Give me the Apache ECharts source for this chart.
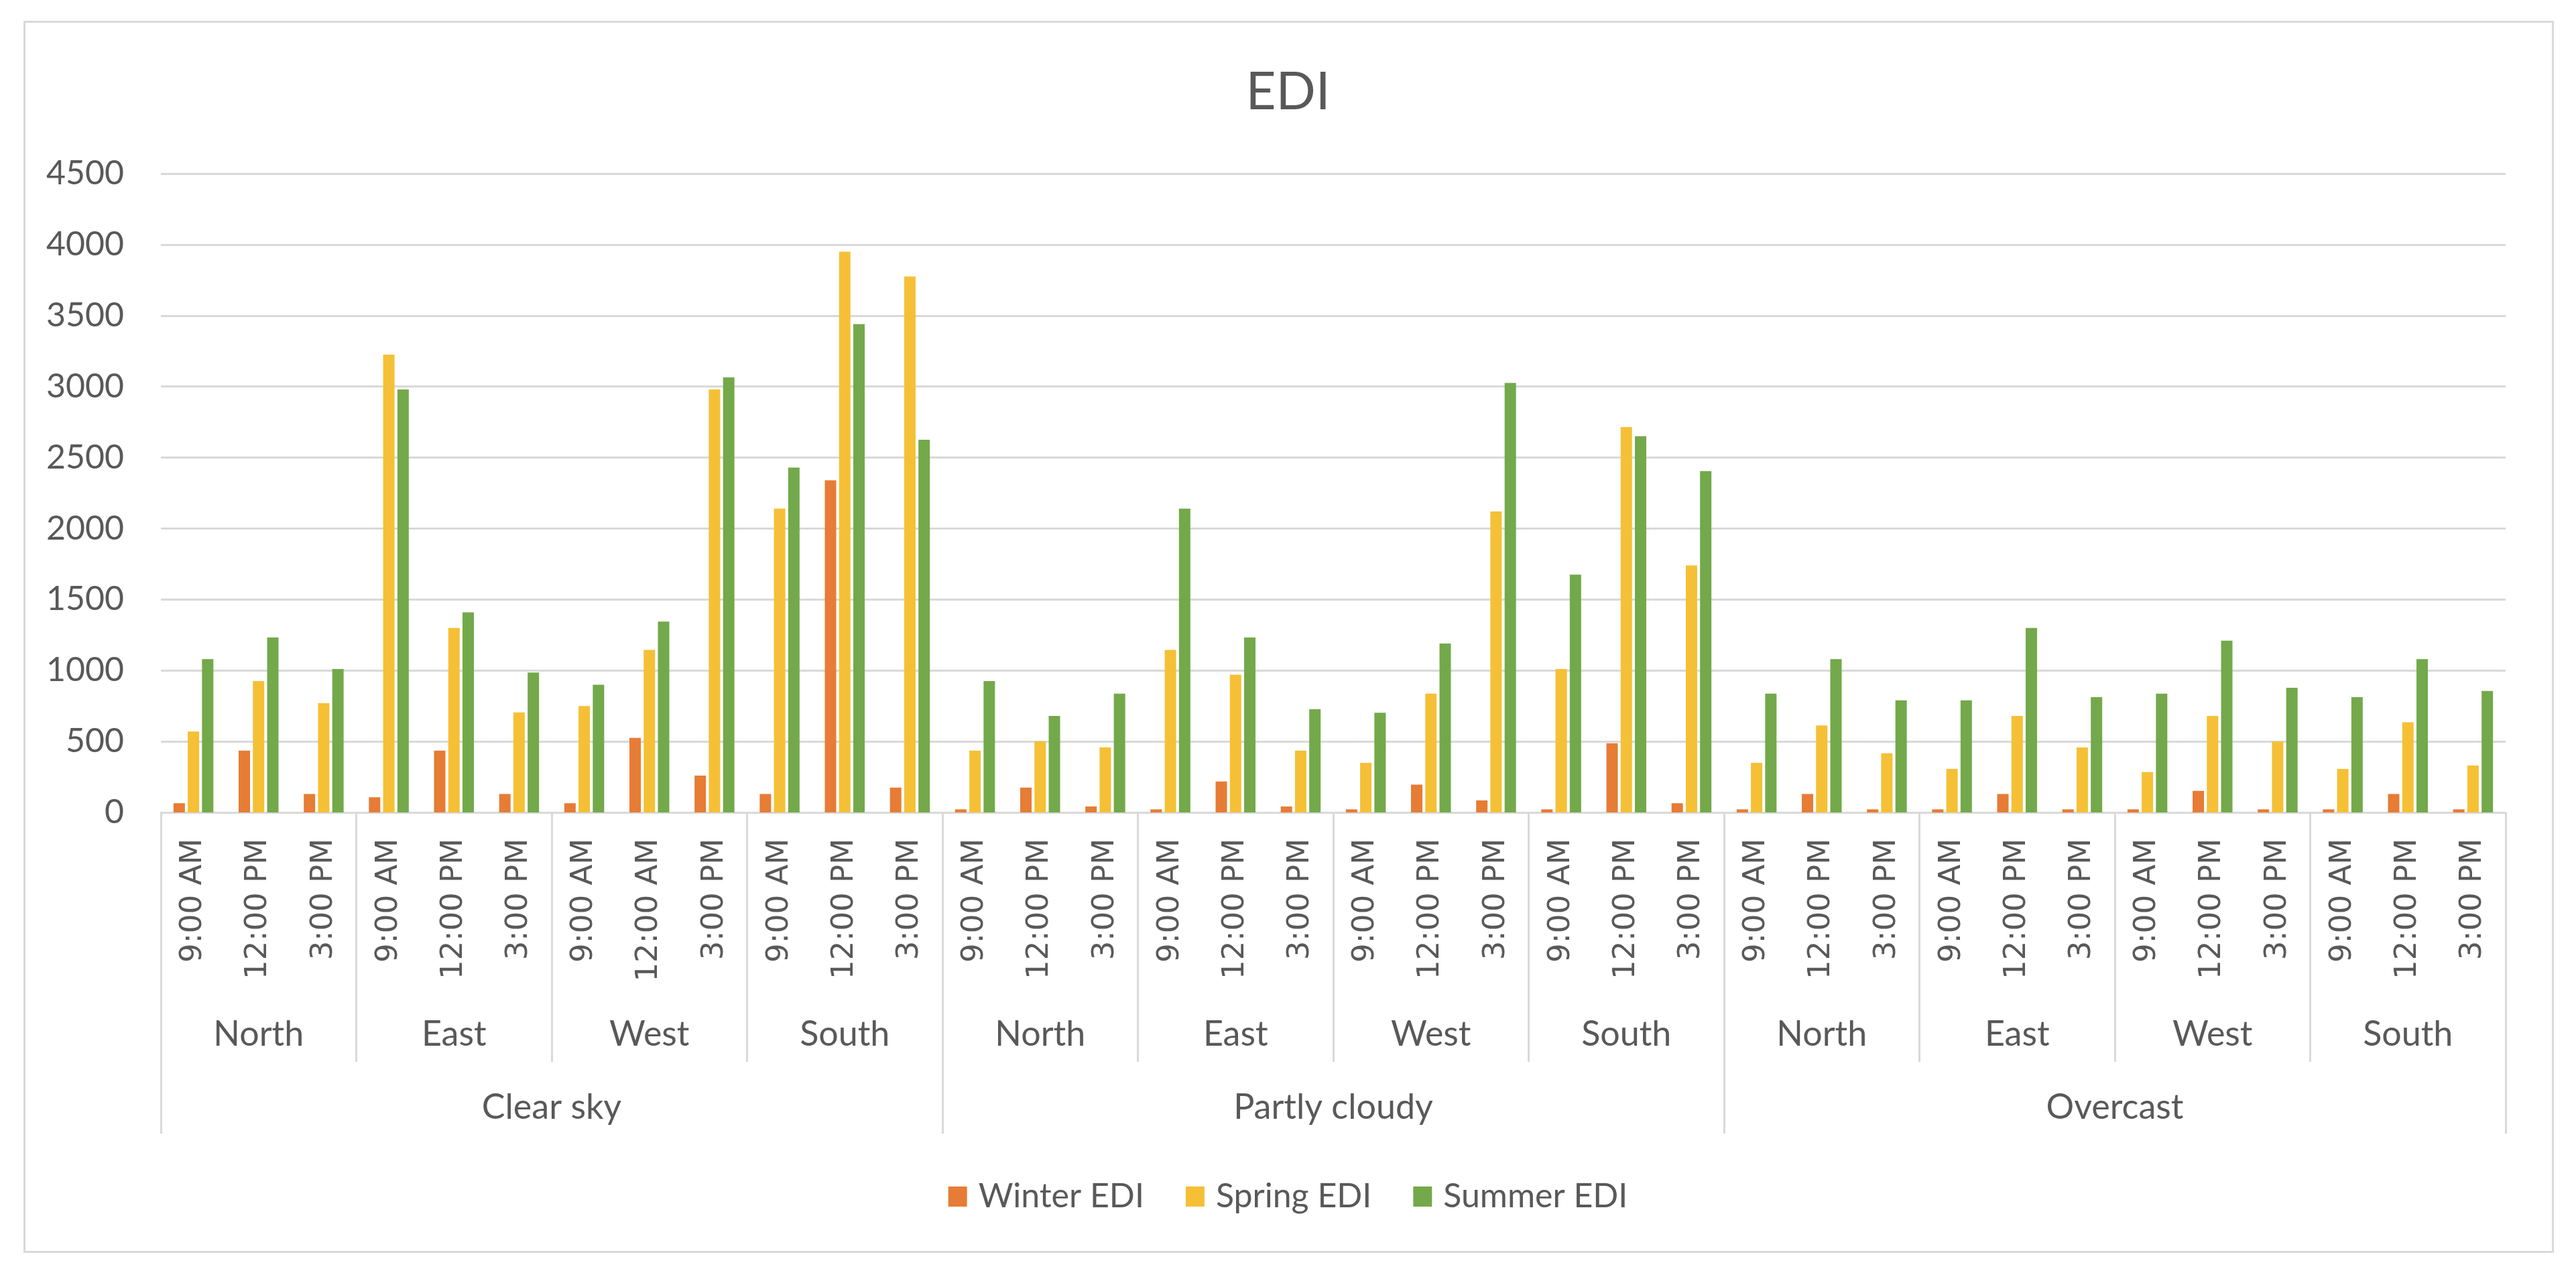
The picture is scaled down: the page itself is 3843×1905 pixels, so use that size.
<!DOCTYPE html>
<html>
<head>
<meta charset="utf-8">
<script src="https://cdn.jsdelivr.net/npm/echarts@6/dist/echarts.min.js"></script>
<style>
html,body{margin:0;padding:0;background:#fff;}
#chart{width:3843px;height:1905px;}
</style>
</head>
<body>
<div id="chart"></div>
<script>
const timeLabels = [
  '9:00 AM','12:00 PM','3:00 PM', '9:00 AM','12:00 PM','3:00 PM', '9:00 AM','12:00 AM','3:00 PM', '9:00 AM','12:00 PM','3:00 PM',
  '9:00 AM','12:00 PM','3:00 PM', '9:00 AM','12:00 PM','3:00 PM', '9:00 AM','12:00 PM','3:00 PM', '9:00 AM','12:00 PM','3:00 PM',
  '9:00 AM','12:00 PM','3:00 PM', '9:00 AM','12:00 PM','3:00 PM', '9:00 AM','12:00 PM','3:00 PM', '9:00 AM','12:00 PM','3:00 PM'
];
const directions = ['North','East','West','South','North','East','West','South','North','East','West','South'];
const skies = ['Clear sky','Partly cloudy','Overcast'];
const seriesNames = ['Winter EDI','Spring EDI','Summer EDI'];
const yTicks = {min: 0, max: 4500, interval: 500};

const winter = [65,436,130, 107,436,130, 65,525,260, 130,2340,175, 22,175,42, 22,218,42, 22,196,85, 22,487,65, 22,130,22, 22,130,22, 22,152,22, 22,130,22];
const spring = [570,925,770, 3225,1300,705, 750,1145,2980, 2140,3950,3775, 436,500,458, 1145,970,436, 350,837,2120, 1010,2715,1740, 350,613,417, 307,680,458, 285,680,500, 307,635,330];
const summer = [1080,1232,1010, 2980,1410,986, 900,1345,3065, 2430,3440,2625, 925,680,837, 2140,1232,727, 702,1190,3025, 1675,2650,2405, 837,1080,790, 790,1300,812, 837,1210,878, 812,1080,856];

const colors = ['#E67C35','#F5C036','#73A94A'];
const gridColor = '#D9D9D9';
const textColor = '#595959';
const baseFont = 'Lato';

const chart = echarts.init(document.getElementById('chart'), null, {renderer:'canvas'});
const option = {
  backgroundColor: '#fff',
  animation: false,
  title: {
    text: 'EDI', left: 'center', top: 94,
    textStyle: {fontFamily: baseFont, fontSize: 78, fontWeight: 'normal', color: textColor}
  },
  legend: {
    data: seriesNames, left: 'center', top: 1755,
    itemWidth: 28, itemHeight: 30, itemGap: 62, icon: 'rect',
    textStyle: {fontFamily: baseFont, fontSize: 50, color: textColor, padding: [0,0,0,12]}
  },
  grid: {left: 240, right: 105, top: 259, bottom: 693, containLabel: false},
  graphic: [{
    type: 'rect', left: 34, top: 30, silent: true,
    shape: {width: 3772, height: 1835},
    style: {fill: 'none', stroke: gridColor, lineWidth: 3}
  }],
  xAxis: [
    {
      type: 'category', data: timeLabels, position: 'bottom',
      axisLine: {show: true, lineStyle: {color: gridColor, width: 3}},
      axisTick: {show: false},
      axisLabel: {interval: 0, rotate: 90, margin: 39, fontFamily: 'DejaVu Sans', fontSize: 45, color: textColor}
    },
    {
      type: 'category', data: directions, position: 'bottom',
      axisLine: {show: false},
      axisTick: {show: true, interval: 0, length: 372, lineStyle: {color: gridColor, width: 3}},
      axisLabel: {interval: 0, margin: 305, fontFamily: baseFont, fontSize: 52, color: textColor}
    },
    {
      type: 'category', data: skies, position: 'bottom',
      axisLine: {show: false},
      axisTick: {show: true, interval: 0, length: 479, lineStyle: {color: gridColor, width: 3}},
      axisLabel: {interval: 0, margin: 414, fontFamily: baseFont, fontSize: 52, color: textColor}
    }
  ],
  yAxis: {
    type: 'value', min: yTicks.min, max: yTicks.max, interval: yTicks.interval,
    axisLine: {show: false}, axisTick: {show: false},
    splitLine: {lineStyle: {color: gridColor, width: 3}},
    axisLabel: {margin: 55, fontFamily: baseFont, fontSize: 50, color: textColor, formatter: function (v) { return String(v); }}
  },
  series: [
    {name: seriesNames[0], type: 'bar', xAxisIndex: 0, data: winter, barWidth: 17, barGap: '25%', itemStyle: {color: colors[0]}},
    {name: seriesNames[1], type: 'bar', xAxisIndex: 0, data: spring, barWidth: 17, barGap: '25%', itemStyle: {color: colors[1]}},
    {name: seriesNames[2], type: 'bar', xAxisIndex: 0, data: summer, barWidth: 17, barGap: '25%', itemStyle: {color: colors[2]}}
  ]
};
chart.setOption(option);
</script>
</body>
</html>
